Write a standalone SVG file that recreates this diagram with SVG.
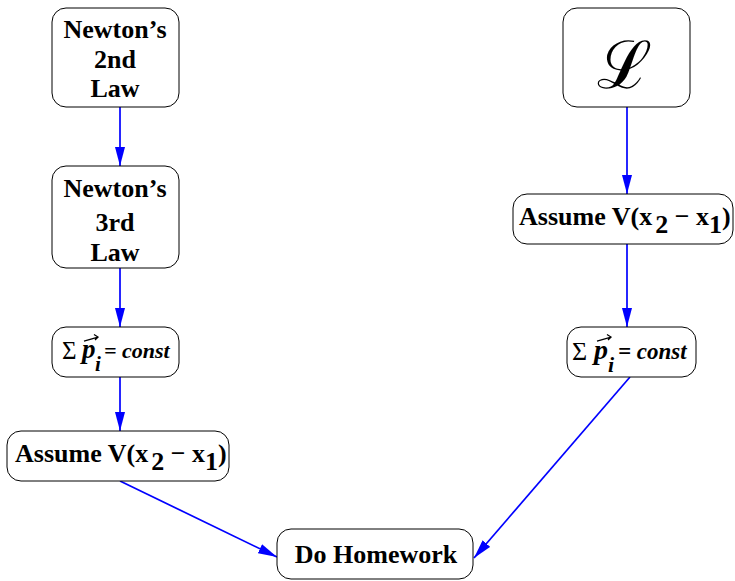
<svg xmlns="http://www.w3.org/2000/svg" width="735" height="581" viewBox="0 0 735 581">
<defs>
<style>
.box{fill:#fff;stroke:#000;stroke-width:1}
.t{font-family:'Liberation Serif','Times New Roman',serif;font-weight:bold;font-size:26px;fill:#000;text-anchor:middle}
.s{font-family:'Liberation Serif','Times New Roman',serif;fill:#000}
.e{stroke:#0000ff;stroke-width:1.7;fill:none}
</style>
<marker id="ah" viewBox="0 0 19 10" refX="19" refY="5" markerWidth="19" markerHeight="10" markerUnits="userSpaceOnUse" orient="auto">
<path d="M0,0 L19,5 L0,10 Z" fill="#0000ff"/>
</marker>
</defs>
<g id="connectors">
<line class="e" x1="120" y1="107" x2="120" y2="166" marker-end="url(#ah)"/>
<line class="e" x1="120" y1="268" x2="120" y2="327" marker-end="url(#ah)"/>
<line class="e" x1="120" y1="377" x2="120" y2="431" marker-end="url(#ah)"/>
<line class="e" x1="120" y1="481" x2="277" y2="557" marker-end="url(#ah)"/>
<line class="e" x1="627" y1="107" x2="627" y2="194" marker-end="url(#ah)"/>
<line class="e" x1="627" y1="244" x2="627" y2="327" marker-end="url(#ah)"/>
<line class="e" x1="630" y1="377" x2="474" y2="558" marker-end="url(#ah)"/>
</g>
<g id="n2law">
<rect class="box" x="52" y="8" width="127" height="99" rx="14"/>
<text class="t" x="115" y="38">Newton’s</text>
<text class="t" x="115" y="68">2nd</text>
<text class="t" x="115" y="97">Law</text>
</g>
<g id="n3law">
<rect class="box" x="52" y="166" width="127" height="102" rx="14"/>
<text class="t" x="115" y="197">Newton’s</text>
<text class="t" x="115" y="231">3rd</text>
<text class="t" x="115" y="261">Law</text>
</g>
<g id="psumL">
<rect class="box" x="52" y="327" width="127" height="50" rx="14"/>
<text class="s" x="62" y="359" font-size="25">Σ</text>
<text class="s" x="82" y="358" font-size="27" font-weight="bold" font-style="italic">p</text>
<text class="s" x="95" y="371" font-size="21" font-weight="bold" font-style="italic">i</text>
<path d="M84,341 L98,337 M94,334.5 L98,337 L95,340" stroke="#000" stroke-width="1.3" fill="none"/>
<text class="s" x="104" y="358" font-size="22" font-weight="bold" font-style="italic">= const</text>
</g>
<g id="assumeL">
<rect class="box" x="7" y="431" width="222" height="50" rx="14"/>
<text class="s" x="15" y="462" font-size="26" font-weight="bold">Assume V(x<tspan dx="3" dy="8">2</tspan><tspan dy="-8"> − x</tspan><tspan dy="8">1</tspan><tspan dy="-8">)</tspan></text>
</g>
<g id="lagr">
<rect class="box" x="563" y="8" width="127" height="99" rx="14"/>
<text class="s" x="624" y="88" font-family="'DejaVu Serif','Liberation Serif',serif" font-size="66" text-anchor="middle">ℒ</text>
</g>
<g id="assumeR">
<rect class="box" x="513" y="194" width="220" height="50" rx="14"/>
<text class="s" x="519" y="225" font-size="26" font-weight="bold">Assume V(x<tspan dx="3" dy="8">2</tspan><tspan dy="-8"> − x</tspan><tspan dy="8">1</tspan><tspan dy="-8">)</tspan></text>
</g>
<g id="psumR">
<rect class="box" x="567" y="327" width="129" height="50" rx="14"/>
<text class="s" x="572" y="360" font-size="26">Σ</text>
<text class="s" x="594" y="359" font-size="28" font-weight="bold" font-style="italic">p</text>
<text class="s" x="608" y="372" font-size="22" font-weight="bold" font-style="italic">i</text>
<path d="M597,341 L611,337 M607,334.5 L611,337 L608,340" stroke="#000" stroke-width="1.3" fill="none"/>
<text class="s" x="618" y="359" font-size="23" font-weight="bold" font-style="italic">= const</text>
</g>
<g id="homework">
<rect class="box" x="277" y="529" width="196" height="50" rx="14"/>
<text class="t" x="376" y="563">Do Homework</text>
</g>
</svg>
